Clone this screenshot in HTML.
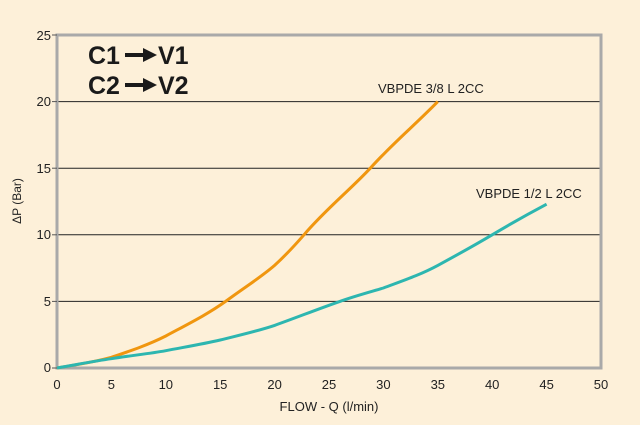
<!DOCTYPE html>
<html><head><style>body{margin:0;background:#fdf0d9;}svg{display:block}</style></head><body>
<svg width="640" height="425" viewBox="0 0 640 425" xmlns="http://www.w3.org/2000/svg" font-family="Liberation Sans, sans-serif">
<rect width="640" height="425" fill="#fdf0d9"/>
<g stroke="#222" stroke-width="1">
<line x1="57" y1="301.4" x2="601" y2="301.4"/>
<line x1="57" y1="234.8" x2="601" y2="234.8"/>
<line x1="57" y1="168.2" x2="601" y2="168.2"/>
<line x1="57" y1="101.6" x2="601" y2="101.6"/>
</g>
<rect x="57" y="35" width="544" height="333" fill="none" stroke="#a9a9a9" stroke-width="3"/>
<g stroke="#555" stroke-width="1">
<line x1="52" y1="35" x2="57" y2="35"/><line x1="52" y1="101.6" x2="57" y2="101.6"/><line x1="52" y1="168.2" x2="57" y2="168.2"/><line x1="52" y1="234.8" x2="57" y2="234.8"/><line x1="52" y1="301.4" x2="57" y2="301.4"/><line x1="52" y1="368" x2="57" y2="368"/>
</g>
<g font-size="13" fill="#222" text-anchor="end">
<text x="51" y="40">25</text><text x="51" y="106">20</text><text x="51" y="173">15</text><text x="51" y="239">10</text><text x="51" y="306">5</text><text x="51" y="372">0</text>
</g>
<g font-size="13" fill="#222" text-anchor="middle">
<text x="57" y="389">0</text><text x="111.4" y="389">5</text><text x="165.8" y="389">10</text><text x="220.2" y="389">15</text><text x="274.6" y="389">20</text><text x="329" y="389">25</text><text x="383.4" y="389">30</text><text x="437.8" y="389">35</text><text x="492.2" y="389">40</text><text x="546.6" y="389">45</text><text x="601" y="389">50</text>
<text x="329" y="411" font-size="13">FLOW - Q (l/min)</text>
</g>
<text transform="translate(21,201) rotate(-90)" font-size="12" fill="#222" text-anchor="middle">ΔP (Bar)</text>
<g font-size="25" font-weight="bold" fill="#1a1a1a">
<text x="88" y="64">C1</text><text x="88" y="94">C2</text>
<text x="158" y="64">V1</text><text x="158" y="94">V2</text>
</g>
<g stroke="#1a1a1a" stroke-width="4"><line x1="125" y1="55" x2="145" y2="55"/><line x1="125" y1="85" x2="145" y2="85"/></g>
<polygon points="143,48 157,55 143,62" fill="#1a1a1a"/><polygon points="143,78 157,85 143,92" fill="#1a1a1a"/>
<text x="378" y="93" font-size="13" fill="#222">VBPDE 3/8 L 2CC</text>
<text x="476" y="198" font-size="13" fill="#222">VBPDE 1/2 L 2CC</text>
<path d="M57,368 C80,364 95,362 111.4,357.3 C130,351 148,345 165.8,336 C190,323 208,314 225.6,301.4 C245,287 260,278 274.6,265.4 C287,254 296,244 304,234.8 C325,210 350,190 370.3,168.2 C392,144 415,125 437.8,101.6" fill="none" stroke="#f0960f" stroke-width="3"/>
<path d="M57,368 C80,364 95,361 111.4,358.7 C130,355.5 148,354 165.8,350.7 C185,347 203,344 220.2,340 C240,335 258,331 274.6,325.4 C298,317 318,309 339.9,301.4 C355,296 370,292 383.4,288 C402,281 420,275 437.8,265.4 C457,255 475,245 492.2,234.8 C512,223 530,213 546.6,204.2" fill="none" stroke="#2db6b0" stroke-width="3"/>
</svg>
</body></html>
